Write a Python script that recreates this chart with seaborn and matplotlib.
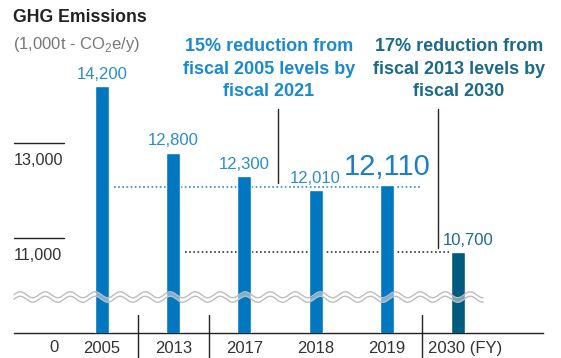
import matplotlib
matplotlib.use('Agg')
import matplotlib.pyplot as plt
import matplotlib.transforms as mtransforms
import seaborn as sns
import numpy as np

years = ["2005", "2013", "2017", "2018", "2019", "2030"]
year_labels = ["2005", "2013", "2017", "2018", "2019", "2030 (FY)"]
emissions = [14200, 12800, 12300, 12010, 12110, 10700]
value_labels = ["14,200", "12,800", "12,300", "12,010", "12,110", "10,700"]
target_2021 = 12070   # 15% below fiscal 2005
target_2030 = 10700   # 17% below fiscal 2013
ytick_values = [13000, 11000]
ytick_labels = ["13,000", "11,000"]
axis_floor = 9000     # broken axis: shown as 0

BLUE = "#0077be"
DARK = "#005b7e"
LABEL_BLUE = "#2a8dd0"
TEAL_TEXT = "#1b6a8c"

sns.set_theme(style="white")
plt.rcParams['font.family'] = ['Liberation Sans', 'DejaVu Sans']

W, H = 561, 358
fig = plt.figure(figsize=(W / 100, H / 100), dpi=100)
ax = fig.add_axes([14 / W, 25 / H, 529 / W, 333 / H])

colors = [BLUE] * 5 + [DARK]
sns.barplot(x=years, y=emissions, hue=years, palette=colors, legend=False,
            width=0.197, ax=ax, zorder=3, saturation=1)

px_per_cat = 71.2
ax.set_xlim(-88 / px_per_cat, 441 / px_per_cat)
ax.set_ylim(axis_floor, axis_floor + 333 / 47.5 * 1000)

for s in ["top", "right", "left"]:
    ax.spines[s].set_visible(False)
ax.spines["bottom"].set_color("#222222")
ax.spines["bottom"].set_linewidth(1)
ax.set_yticks([])
ax.set_xticks(range(len(years)))
ax.set_xticklabels(year_labels, fontsize=12, color="#333333")
ax.tick_params(axis="x", length=0, pad=6)
ax.set_xlabel("")
ax.set_ylabel("")
# the last label sits a little to the right of its bar
last = ax.get_xticklabels()[-1]
last.set_transform(last.get_transform() +
                   mtransforms.ScaledTranslation(7 / 100, 0, fig.dpi_scale_trans))

# y "ticks": short rules with labels beneath
for v, lab in zip(ytick_values, ytick_labels):
    ax.plot([0, 50 / 529], [v, v], color="#222222", lw=1,
            transform=ax.get_yaxis_transform(), clip_on=False)
    ax.annotate(lab, xy=(0, v), xycoords=("axes fraction", "data"),
                xytext=(0, -7), textcoords="offset points",
                ha="left", va="top", fontsize=11.7, color="#333333")
ax.annotate("0", xy=(40 / 529, axis_floor), xycoords=("axes fraction", "data"),
            xytext=(0, -5), textcoords="offset points",
            ha="center", va="top", fontsize=12, color="#333333")

# separators below the axis
for xs in [0.5, 1.5, 4.5]:
    ax.plot([xs, xs], [axis_floor + 380, axis_floor - 600], color="#222222",
            lw=1, clip_on=False, zorder=4)

# value labels
for i, (v, lab) in enumerate(zip(emissions, value_labels)):
    if i == 4:
        ax.annotate(lab, xy=(i, v), xytext=(0, 3), textcoords="offset points",
                    ha="center", va="bottom", fontsize=21, color="#1a7fc4")
    elif i == 5:
        ax.annotate(lab, xy=(i, v), xytext=(7, 3), textcoords="offset points",
                    ha="center", va="bottom", fontsize=12, color=TEAL_TEXT)
    else:
        ax.annotate(lab, xy=(i, v), xytext=(0, 3), textcoords="offset points",
                    ha="center", va="bottom", fontsize=12, color=LABEL_BLUE)

# target dotted lines
ax.plot([0.17, 4.49], [target_2021, target_2021], color="#2a8dd0", lw=1.2,
        ls=(0, (1, 1.5)), zorder=2)
ax.plot([1.17, 4.88], [target_2030, target_2030], color="#333333", lw=1.2,
        ls=(0, (1, 1.5)), zorder=2)

# leader lines for annotations
ax.plot([2.47, 2.47], [13716, 12160], color="#222222", lw=1, zorder=2)
ax.plot([4.72, 4.72], [13716, 10790], color="#222222", lw=1, zorder=2)

# wavy break marks
t = np.linspace(0, (483 - 14) / 529, 600)
yc = 36 / 333
amp = 3 / 333
off = 4.5 / 333
wave = amp * np.sin(2 * np.pi * t / (25 / 529))
ax.fill_between(t, yc - off / 2 + wave, yc + off / 2 + wave, color="white",
                alpha=0.45, lw=0, transform=ax.transAxes, zorder=5)
for d in (-off / 2, off / 2):
    ax.plot(t, yc + d + wave, color="#bdbdbd", lw=1, transform=ax.transAxes,
            zorder=6, clip_on=False)

# titles and annotations
fig.text(13 / W, 1 - 17 / H, "GHG Emissions", fontsize=12.7, fontweight="bold",
         color="#222222", va="center", ha="left")
fig.text(13 / W, 1 - 45 / H, r"(1,000t - CO$_\mathregular{2}$e/y)", fontsize=12,
         color="#777777", va="center", ha="left")
fig.text(269 / W, 1 - 69 / H, "15% reduction from\nfiscal 2005 levels by\nfiscal 2021",
         fontsize=13, fontweight="bold", color="#1a8ad0", ha="center",
         va="center", linespacing=1.4)
fig.text(459 / W, 1 - 69 / H, "17% reduction from\nfiscal 2013 levels by\nfiscal 2030",
         fontsize=13, fontweight="bold", color=TEAL_TEXT, ha="center",
         va="center", linespacing=1.4)

fig.savefig("out.png", dpi=100)
